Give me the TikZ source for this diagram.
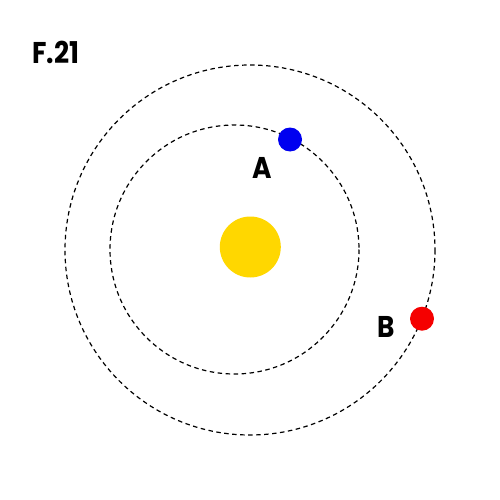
\documentclass[tikz,border=0pt]{standalone}
\usepackage{fontspec}
\setmainfont{Poppins}
\definecolor{sunyellow}{HTML}{FFD700}
\definecolor{planetblue}{HTML}{0000F0}
\definecolor{planetred}{HTML}{F50000}
\newcommand{\narrowtxt}[1]{\scalebox{0.88}[1]{#1}}
\begin{document}
\begin{tikzpicture}[x=1pt,y=-1pt,
  orbit/.style={draw=black,line width=1.2pt,dash pattern=on 4.5pt off 3.5pt},
  lbl/.style={font=\fontsize{30}{30}\selectfont\bfseries,inner sep=0pt,anchor=center}]
\useasboundingbox (0,0) rectangle (500,500);
\fill[white] (0,0) rectangle (500,500);
\draw[orbit] (250,250) circle (185);
\draw[orbit] (234.5,249.5) circle (124.5);
\node[circle,fill=sunyellow,minimum size=61pt,inner sep=0pt] (sun) at (250.3,247) {};
\node[circle,fill=planetblue,minimum size=24pt,inner sep=0pt] (pa) at (290,139.5) {};
\node[circle,fill=planetred,minimum size=24pt,inner sep=0pt] (pb) at (422,318.7) {};
\node[lbl] (la) at (262,167.5) {\narrowtxt{A}};
\node[lbl] (lb) at (386.5,326.5) {\narrowtxt{B}};
\node[lbl,anchor=west] (title) at (32,52) {\narrowtxt{F.21}};
\end{tikzpicture}
\end{document}
